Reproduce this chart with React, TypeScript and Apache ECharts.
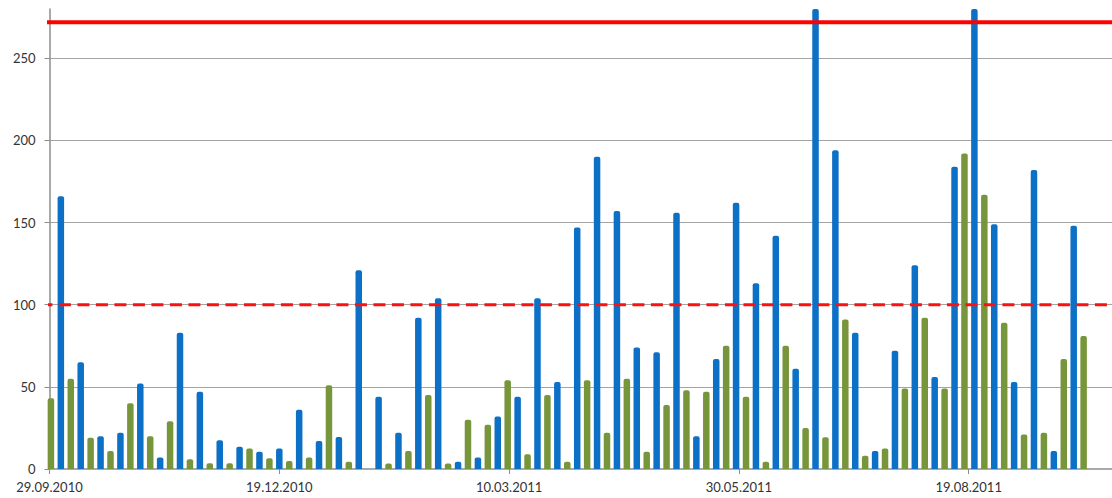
import React, { useEffect, useRef } from "react";
import * as echarts from "echarts";

// Tick labels every 81 days from 29.09.2010
const tickLabels = ["29.09.2010", "19.12.2010", "10.03.2011", "30.05.2011", "19.08.2011"];
const tickStepDays = 81;
const axisMaxDays = 374.5;

// weekly values (two series, offset within each week)
const greenValues = [
  43, 55, 19, 11, 40, 20, 29, 6, 3.5, 3.5, 12.5, 6.5, 4.8, 7, 51, 4.4, 0, 3.4, 11, 45,
  3.4, 30, 27, 54, 9, 45, 4.4, 54, 22, 55, 10.5, 39, 48, 47, 75, 44, 4.4, 75, 25, 19.4,
  91, 8, 12.5, 49, 92, 49, 192, 167, 89, 21, 22, 67, 81,
];
const blueValues = [
  166, 65, 20, 22, 52, 7, 83, 47, 17.5, 13.5, 10.5, 12.5, 36, 17, 19.5, 121, 44, 22, 92, 104,
  4.4, 7, 32, 44, 104, 53, 147, 190, 157, 74, 71, 156, 20, 67, 162, 113, 142, 61, 290, 194,
  83, 11, 72, 124, 56, 184, 290, 149, 53, 182, 11, 148,
];
const greenDayOffset = 0.5;
const blueDayOffset = 4;
const daysPerWeek = 7;

// limit lines: [start day, end day] at a fixed value
const upperLimit = 272;
const lowerLimit = 100;
const upperLineDays = [-7.9, axisMaxDays];
const lowerLineDays = [-3.2, axisMaxDays];

export default function App() {
  const ref = useRef<HTMLDivElement>(null);
  useEffect(() => {
    document.body.style.margin = "0";
    if (!ref.current) return;
    const chart = echarts.init(ref.current, undefined, { renderer: "svg" });
    const font = "Lato, 'Open Sans', sans-serif";
    const greenData = greenValues.map((v, i) => [i * daysPerWeek + greenDayOffset, v]);
    const blueData = blueValues.map((v, i) => [i * daysPerWeek + blueDayOffset, v]);
    chart.setOption({
      animation: false,
      backgroundColor: "#ffffff",
      grid: { left: 49.5, right: 0, top: 9, bottom: 29 },
      xAxis: {
        type: "value",
        min: 0,
        max: axisMaxDays,
        interval: tickStepDays,
        splitLine: { show: false },
        axisLine: { show: true, lineStyle: { color: "#8c8c8c", width: 1.5 } },
        axisTick: { show: true, length: 5, lineStyle: { color: "#8c8c8c" } },
        axisLabel: {
          margin: 11,
          fontFamily: font,
          fontSize: 13,
          color: "#333333",
          showMaxLabel: false,
          formatter: (v: number) => {
            const i = Math.round(v / tickStepDays);
            return Math.abs(v - i * tickStepDays) < 1e-6 && tickLabels[i] ? tickLabels[i] : "";
          },
        },
      },
      yAxis: {
        type: "value",
        min: 0,
        max: 280,
        interval: 50,
        axisLine: { show: true, lineStyle: { color: "#8c8c8c", width: 1.5 } },
        axisTick: { show: true, length: 5, lineStyle: { color: "#8c8c8c" } },
        splitLine: {
          show: true,
          showMaxLine: false,
          showMinLine: false,
          lineStyle: { color: "#a4a4a4", width: 1.2 },
        },
        axisLabel: {
          margin: 14,
          fontFamily: font,
          fontSize: 13,
          color: "#333333",
          showMaxLabel: false,
        },
      },
      series: [
        {
          type: "bar",
          name: "green",
          data: greenData,
          barWidth: 6.5,
          barGap: "-100%",
          itemStyle: { color: "#77963c", borderRadius: [2, 2, 0, 0] },
        },
        {
          type: "bar",
          name: "blue",
          data: blueData,
          barWidth: 6.5,
          barGap: "-100%",
          itemStyle: { color: "#0b70c6", borderRadius: [2, 2, 0, 0] },
        },
        {
          type: "line",
          name: "upper limit",
          data: upperLineDays.map((d) => [d, upperLimit]),
          clip: false,
          symbol: "none",
          silent: true,
          z: 5,
          lineStyle: { color: "#ff0000", width: 4, type: "solid" },
        },
        {
          type: "line",
          name: "lower limit",
          data: lowerLineDays.map((d) => [d, lowerLimit]),
          clip: false,
          symbol: "none",
          silent: true,
          z: 5,
          lineStyle: { color: "#ff1010", width: 3, type: [12, 6.5] },
        },
      ],
    });
    return () => chart.dispose();
  }, []);
  return <div ref={ref} style={{ width: 1112, height: 498 }} />;
}
